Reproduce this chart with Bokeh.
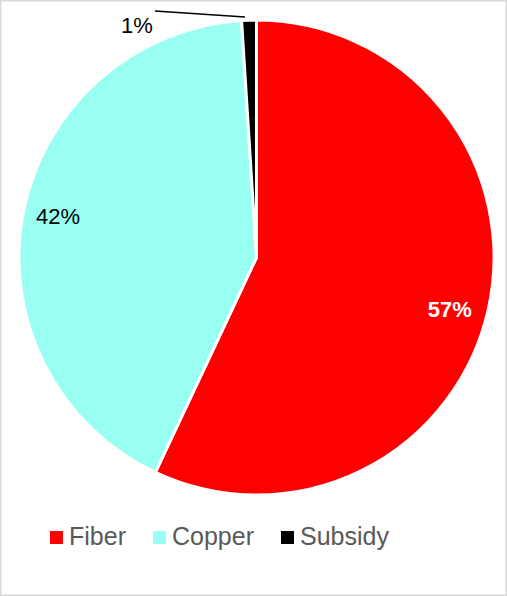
import math
import numpy as np
from bokeh.plotting import figure
from bokeh.models import ColumnDataSource, Legend, LegendItem, Range1d
from bokeh.core.properties import value
from bokeh.embed import file_html
from bokeh.resources import INLINE

categories = ["Fiber", "Copper", "Subsidy"]
shares = [57, 42, 1]
colors = ["#ff0000", "#99fff3", "#000000"]
labels = ["57%", "42%", "1%"]

W, H = 507, 596
cx, cy, R = 256, 339, 237.5

# clockwise from 12 o'clock
frac = np.array(shares, dtype=float) / sum(shares)
cum = np.concatenate([[0], np.cumsum(frac)])
start = [math.radians(90 - 360 * cum[i]) for i in range(3)]
end = [math.radians(90 - 360 * cum[i + 1]) for i in range(3)]
mid = [(s + e) / 2 for s, e in zip(start, end)]

src = ColumnDataSource(dict(cat=categories, color=colors, start=start, end=end))

p = figure(width=W, height=H, x_range=Range1d(0, W), y_range=Range1d(0, H),
           output_backend="svg", toolbar_location=None, min_border=0)
p.axis.visible = False
p.grid.visible = False
p.outline_line_color = "#d9d9d9"
p.outline_line_width = 2
p.background_fill_color = "white"

r = p.wedge(x=cx, y=cy, radius=R, start_angle="start", end_angle="end",
            direction="clock", fill_color="color", line_color="white",
            line_width=3, source=src)

# inside labels
lx = [cx + 200 * math.cos(mid[i]) for i in range(2)]
ly = [cy + 200 * math.sin(mid[i]) for i in range(2)]
p.text(x=[lx[0] - 2], y=[ly[0] - 8], text=[labels[0]], text_color="white",
       text_font=value("Liberation Sans"), text_font_size="22px",
       text_font_style="bold", text_align="center", text_baseline="middle")
p.text(x=[lx[1] - 2], y=[ly[1] + 4], text=[labels[1]], text_color="black",
       text_font=value("Liberation Sans"), text_font_size="22px",
       text_align="center", text_baseline="middle")

# outside label for small slice with leader line
ax = cx + (R + 3) * math.cos(mid[2])
ay = cy + (R + 3) * math.sin(mid[2])
p.line(x=[ax - 4, ax - 94], y=[ay, ay + 6], line_color="black", line_width=1.5)
p.text(x=[ax - 112], y=[ay - 8], text=[labels[2]], text_color="black",
       text_font=value("Liberation Sans"), text_font_size="22px",
       text_align="center", text_baseline="middle")

items = [LegendItem(label=categories[i], renderers=[r], index=i) for i in range(3)]
legend = Legend(items=items, orientation="horizontal", location=(46, 45),
                glyph_width=20, glyph_height=20, label_standoff=3, spacing=23,
                padding=0, margin=0, border_line_color=None,
                background_fill_alpha=0,
                label_text_font="Liberation Sans", label_text_font_size="25px",
                label_text_color="#595959")
p.add_layout(legend)

open("out.html", "w").write(file_html(p, INLINE))
